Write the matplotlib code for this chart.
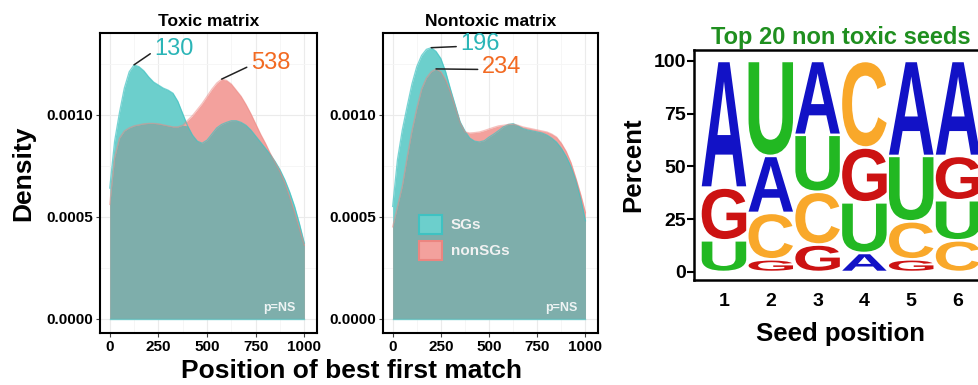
"""
Density of best first match position (toxic / nontoxic matrix) + seed logo
"""
import numpy as np
import matplotlib
matplotlib.use('Agg')
import matplotlib.pyplot as plt
from matplotlib.patches import Patch, PathPatch
from matplotlib.textpath import TextPath
from matplotlib.font_manager import FontProperties
from matplotlib.transforms import Affine2D

plt.rcParams['font.family'] = ['Liberation Sans', 'DejaVu Sans']

# 1. data

# x positions of the density samples
POS = [0, 25, 50, 75, 100, 125, 150, 175, 200, 225, 250, 275, 300, 325, 350,
       375, 400, 425, 450, 475, 500, 525, 550, 575, 600, 625, 650, 675, 700,
       725, 750, 775, 800, 825, 850, 875, 900, 925, 950, 975, 1000]

# densities, in units of 1e-3
TOX_SG = [0.64, 0.87, 1.01, 1.13, 1.21, 1.244, 1.235, 1.215, 1.185, 1.16, 1.145,
          1.13, 1.12, 1.105, 1.065, 1.005, 0.945, 0.90, 0.87, 0.86, 0.875, 0.905,
          0.935, 0.952, 0.962, 0.970, 0.970, 0.962, 0.948, 0.925, 0.895, 0.865,
          0.835, 0.805, 0.77, 0.73, 0.68, 0.62, 0.55, 0.465, 0.37]
TOX_NON = [0.56, 0.79, 0.885, 0.92, 0.935, 0.945, 0.95, 0.955, 0.957, 0.957, 0.955,
           0.95, 0.945, 0.94, 0.94, 0.948, 0.972, 0.995, 1.025, 1.055, 1.09, 1.125,
           1.155, 1.174, 1.168, 1.15, 1.12, 1.09, 1.05, 1.005, 0.955, 0.905,
           0.86, 0.81, 0.765, 0.72, 0.665, 0.595, 0.52, 0.44, 0.36]
NONTOX_SG = [0.55, 0.78, 0.925, 1.04, 1.15, 1.235, 1.29, 1.32, 1.328, 1.31, 1.275,
             1.21, 1.125, 1.045, 0.965, 0.92, 0.885, 0.87, 0.866, 0.872, 0.89, 0.905,
             0.922, 0.94, 0.952, 0.956, 0.945, 0.932, 0.925, 0.92, 0.915, 0.91,
             0.90, 0.885, 0.865, 0.835, 0.795, 0.745, 0.68, 0.59, 0.48]
NONTOX_NON = [0.45, 0.55, 0.65, 0.79, 0.92, 1.03, 1.125, 1.18, 1.21, 1.224, 1.21,
              1.17, 1.11, 1.035, 0.96, 0.915, 0.91, 0.912, 0.915, 0.922, 0.93, 0.938,
              0.945, 0.948, 0.952, 0.953, 0.948, 0.94, 0.935, 0.93, 0.925, 0.92,
              0.915, 0.905, 0.89, 0.86, 0.82, 0.765, 0.69, 0.61, 0.52]

GROUPS = ['SGs', 'nonSGs']
PANEL_TITLES = ['Toxic matrix', 'Nontoxic matrix']
PEAK_LABELS = [('130', '538'), ('196', '234')]
X_TICKS = [0, 250, 500, 750, 1000]
Y_TICKS = [0.0, 0.0005, 0.0010]
Y_TICK_LABELS = ['0.0000', '0.0005', '0.0010']

# seed logo, percent per base at positions 1..6
SEED_POS = [1, 2, 3, 4, 5, 6]
BASES = ['A', 'C', 'G', 'U']
PCT_A = [60, 27, 35, 9, 45, 45]
PCT_C = [0, 22, 25, 41, 18, 15]
PCT_G = [25, 6, 13, 26, 6, 21]
PCT_U = [15, 45, 27, 24, 31, 19]
PCT_TICKS = [0, 25, 50, 75, 100]

# colours
TEAL = '#6ccfcc'
TEAL_EDGE = '#3fc2c2'
PINK = '#f3a19d'
PINK_EDGE = '#ec8580'
OVERLAP = '#7eaeab'
TEAL_TXT = '#2bb5b7'
ORANGE_TXT = '#f26a22'
BASE_COLORS = {'A': '#1212c6', 'C': '#f9a82a', 'G': '#cc1212', 'U': '#22b822'}

W, H = 979, 385
fig = plt.figure(figsize=(W / 100, H / 100), dpi=100)


def px_axes(left, top, right, bottom):
    return fig.add_axes([left / W, 1 - bottom / H, (right - left) / W, (bottom - top) / H])


# 2. density panels

ax1 = px_axes(100, 33, 317, 333)
ax2 = px_axes(383, 33, 598, 333)
x = np.array(POS)
panels = [(ax1, TOX_SG, TOX_NON, 0.899), (ax2, NONTOX_SG, NONTOX_NON, 0.907)]
text_offsets = [((14.5, 11.5), (21, 11.5)), ((21, 2.5), (33, 1.2))]

for i, (ax, sg, non, p_x) in enumerate(panels):
    sg = np.array(sg) * 1e-3
    non = np.array(non) * 1e-3
    ax.fill_between(x, 0, sg, color=TEAL, lw=0, zorder=2)
    ax.fill_between(x, 0, non, color=PINK, lw=0, zorder=2)
    ax.fill_between(x, 0, np.minimum(sg, non), color=OVERLAP, lw=0, zorder=3)
    ax.plot(x, sg, color=TEAL_EDGE, lw=0.9, alpha=0.7, zorder=4)
    ax.plot(x, non, color=PINK_EDGE, lw=0.9, alpha=0.5, zorder=4)
    ax.plot(x, np.zeros_like(x), color=TEAL_EDGE, lw=1, alpha=0.6, zorder=4)

    ax.set_xlim(-50, 1065)
    ax.set_ylim(-0.00007, 0.0014)
    ax.set_xticks(X_TICKS)
    ax.set_xticks([125, 375, 625, 875], minor=True)
    ax.set_yticks(Y_TICKS)
    ax.set_yticklabels(Y_TICK_LABELS)
    ax.set_yticks([0.00025, 0.00075, 0.00125], minor=True)
    ax.grid(True, which='major', color='#ebebeb', lw=0.8, zorder=0)
    ax.grid(True, which='minor', color='#f5f5f5', lw=0.6, zorder=0)
    ax.set_axisbelow(True)
    ax.tick_params(which='major', length=3, width=0.8, color='#444444', pad=2,
                   labelsize=11)
    ax.tick_params(which='minor', length=0)
    for lab in ax.get_xticklabels() + ax.get_yticklabels():
        lab.set_fontweight('bold')
    for sp in ax.spines.values():
        sp.set_linewidth(1.5)
        sp.set_color('black')
        sp.set_zorder(6)
    ax.set_title(PANEL_TITLES[i], fontsize=12.5, fontweight='bold', pad=5)
    ax.text(p_x, 0.083, 'p=NS', transform=ax.transAxes, ha='right', va='center',
            fontsize=9, fontweight='bold', color='#eef4f4', zorder=7)

    # peak labels
    for series, label, color, off in [(sg, PEAK_LABELS[i][0], TEAL_TXT, text_offsets[i][0]),
                                      (non, PEAK_LABELS[i][1], ORANGE_TXT, text_offsets[i][1])]:
        k = int(np.argmax(series))
        ax.annotate(label, xy=(x[k], series[k]), xytext=off, textcoords='offset points',
                    ha='left', va='center', fontsize=17, color=color, zorder=8,
                    arrowprops=dict(arrowstyle='-', color='#222222', lw=1.1,
                                    shrinkA=1, shrinkB=0, relpos=(0, 0.4)))

ax2.legend(handles=[Patch(facecolor=TEAL, edgecolor=TEAL_EDGE, lw=1.5),
                    Patch(facecolor=PINK, edgecolor=PINK_EDGE, lw=1.5)],
           labels=GROUPS, loc='upper left', bbox_to_anchor=(0.13, 0.42),
           frameon=False, borderpad=0, handlelength=1.55, handleheight=1.55,
           labelspacing=0.45, handletextpad=0.55,
           prop=dict(weight='bold', size=11), labelcolor='#f2f2f2')

fig.text(23 / W, 1 - 173 / H, 'Density', rotation=90, ha='center', va='center',
         fontsize=19, fontweight='bold')
fig.text(352 / W, 1 - 371 / H, 'Position of best first match', ha='center',
         va='center', fontsize=19, fontweight='bold')

# 3. seed logo

ax3 = px_axes(694, 50, 988, 280)
pct = {'A': PCT_A, 'C': PCT_C, 'G': PCT_G, 'U': PCT_U}
fp = FontProperties(family='Liberation Sans', weight='bold')
letter_w = 0.95
for j, p in enumerate(SEED_POS):
    stack = sorted(BASES, key=lambda b: pct[b][j])
    bottom = 0
    for b in stack:
        h = pct[b][j]
        if h <= 0:
            continue
        tp = TextPath((0, 0), b, size=1, prop=fp)
        ext = tp.get_extents()
        pad = 0.6
        hh = h - 2 * pad
        tr = (Affine2D().translate(-ext.x0, -ext.y0)
              .scale(letter_w / ext.width, hh / ext.height)
              .translate(p - letter_w / 2, bottom + pad))
        ax3.add_patch(PathPatch(tr.transform_path(tp), facecolor=BASE_COLORS[b],
                                edgecolor='none', zorder=3))
        bottom += h

ax3.set_xlim(0.36, 6.64)
ax3.set_ylim(-3.8, 105.2)
ax3.set_xticks(SEED_POS)
ax3.set_yticks(PCT_TICKS)
ax3.tick_params(axis='y', length=5, width=1.5, color='black', pad=1, labelsize=14)
ax3.tick_params(axis='x', length=0, pad=9, labelsize=14)
for lab in ax3.get_xticklabels() + ax3.get_yticklabels():
    lab.set_fontweight('bold')
for sp in ax3.spines.values():
    sp.set_linewidth(1.8)
ax3.set_title('Top 20 non toxic seeds', color='#1f8f1f', fontsize=17,
              fontweight='bold', pad=4)
ax3.set_xlabel('Seed position', fontsize=18.5, fontweight='bold', labelpad=9)
ax3.set_ylabel('Percent', fontsize=18.5, fontweight='bold', labelpad=6)

fig.savefig('out.png', dpi=100)
plt.close(fig)
